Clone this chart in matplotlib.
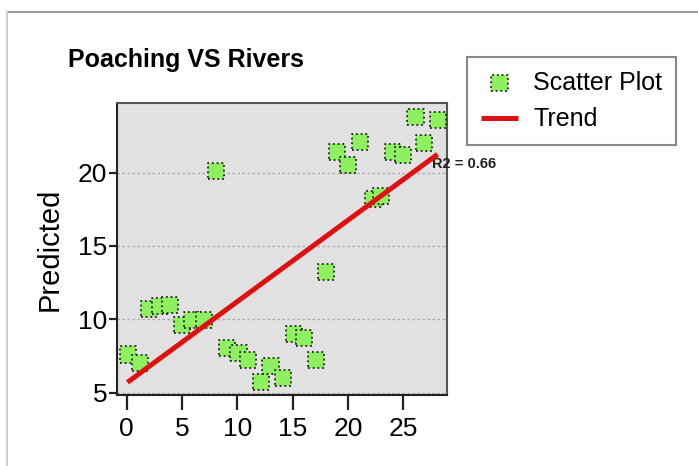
import numpy as np
import matplotlib
matplotlib.use("Agg")
import matplotlib.pyplot as plt
from matplotlib.lines import Line2D
from matplotlib import font_manager

# values
rivers = [0.1, 1.2, 2.0, 3.0, 3.9, 5.0, 5.9, 7.0, 8.1, 9.1, 10.1, 11.0, 12.1, 13.0,
          14.1, 15.1, 16.0, 17.1, 18.0, 19.0, 20.0, 21.1, 22.3, 23.0, 24.1, 25.0,
          26.1, 26.9, 28.1]
predicted = [7.6, 7.0, 10.7, 10.9, 11.0, 9.6, 9.95, 9.95, 20.1, 8.05, 7.7, 7.2, 5.7, 6.8,
             6.0, 9.0, 8.7, 7.2, 13.2, 21.4, 20.5, 22.1, 18.2, 18.4, 21.4, 21.2,
             23.8, 22.0, 23.6]
trend_x = [0.06, 28.1]
trend_y = [5.7, 21.25]
r2_label = "R2 = 0.66"
xticks = [0, 5, 10, 15, 20, 25]
yticks = [5, 10, 15, 20]

plt.rcParams['font.family'] = ['Liberation Sans', 'DejaVu Sans']

# narrow face for the title if it is there
try:
    font_manager.findfont(font_manager.FontProperties(family='Liberation Sans Narrow'),
                          fallback_to_default=False)
    title_family, title_size = 'Liberation Sans Narrow', 22
except ValueError:
    title_family, title_size = 'Liberation Sans', 18

fig = plt.figure(figsize=(6.98, 4.66), dpi=100)
ax = fig.add_axes([117/698, 1-395/466, 330/698, 292/466])
ax.set_facecolor('#e1e1e1')

ax.scatter(rivers, predicted, marker='s', s=135, color='#8ef060',
           edgecolors='#222222', linewidths=1.3, linestyle=(0, (1, 1.6)),
           label='Scatter Plot', zorder=3)
ax.plot(trend_x, trend_y, color='#dd1111', lw=3.6, label='Trend', zorder=4,
        solid_capstyle='butt')

ax.set_xlim(-0.88, 28.95)
ax.set_ylim(4.84, 24.75)
ax.set_xticks(xticks)
ax.set_yticks(yticks)
ax.yaxis.grid(True, linestyle=(0, (2, 2)), color='#a8a8a8', lw=0.9)
ax.set_axisbelow(True)

ax.tick_params(axis='x', length=11, width=1.6, pad=5, labelsize=19, color='#222')
ax.tick_params(axis='y', length=6, width=1.6, pad=1, labelsize=19, color='#222')
for s in ax.spines.values():
    s.set_color('#555555')
    s.set_linewidth(1.5)
ax.spines['left'].set_color('#222222')
ax.spines['bottom'].set_color('#222222')

ax.text(27.6, 20.6, r2_label, fontsize=10.5, fontweight='bold', color='#222',
        ha='left', va='center', clip_on=False)

fig.text(68/698, 1-60/466, "Poaching VS Rivers", fontsize=title_size, fontweight='bold',
         family=[title_family, 'DejaVu Sans'], ha='left', va='center')
fig.text(50/698, 1-249/466, "Predicted", fontsize=21, rotation=90,
         ha='center', va='center')

leg = ax.legend(loc='upper left', bbox_to_anchor=(467/698, 1-57/466),
                bbox_transform=fig.transFigure, fontsize=18, frameon=True,
                fancybox=False, edgecolor='#888888', framealpha=1,
                handlelength=1.5, handletextpad=0.6, labelspacing=0.5,
                borderpad=0.55, borderaxespad=0)
leg.get_frame().set_linewidth(1.5)

# outer frame of the screenshot
fig.add_artist(Line2D([7/698, 1], [1-12/466, 1-12/466], transform=fig.transFigure,
                      color='#9a9a9a', lw=1.5))
fig.add_artist(Line2D([7/698, 7/698], [0, 1-12/466], transform=fig.transFigure,
                      color='#cfcfcf', lw=1.5))

fig.savefig('out.png', dpi=100)
